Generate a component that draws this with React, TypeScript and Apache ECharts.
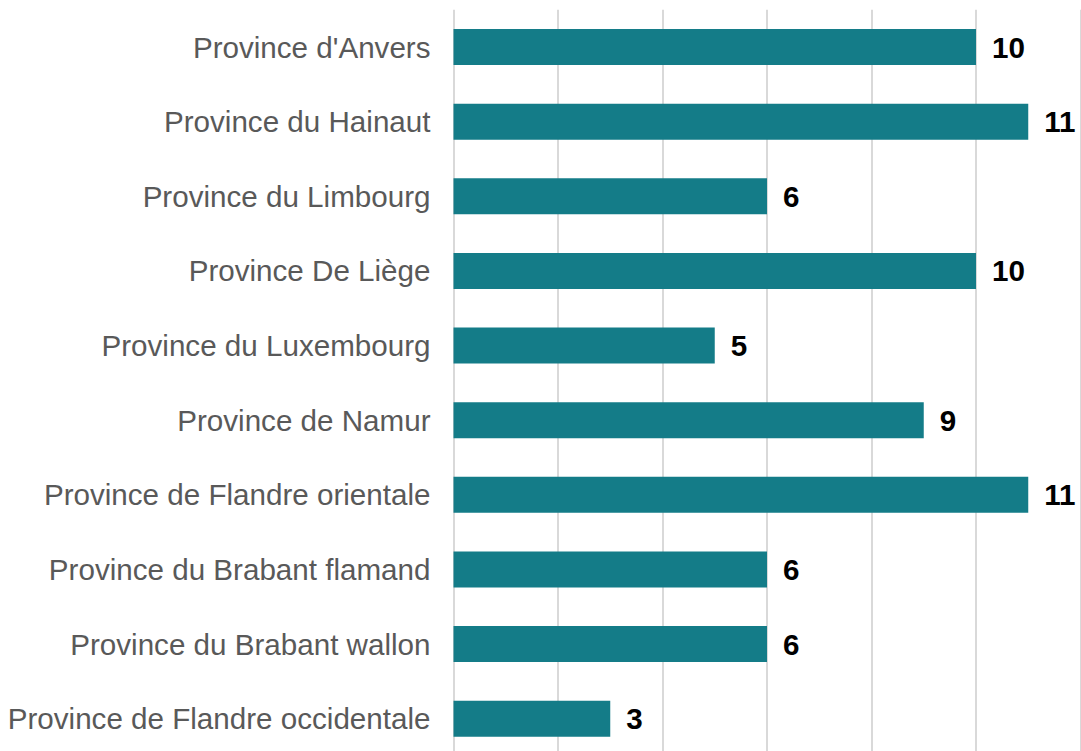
import React, { useEffect, useRef } from "react";
import * as echarts from "echarts";

const categories = [
  "Province d'Anvers",
  "Province du Hainaut",
  "Province du Limbourg",
  "Province De Liège",
  "Province du Luxembourg",
  "Province de Namur",
  "Province de Flandre orientale",
  "Province du Brabant flamand",
  "Province du Brabant wallon",
  "Province de Flandre occidentale",
];
const values = [10, 11, 6, 10, 5, 9, 11, 6, 6, 3];

export default function App() {
  const ref = useRef<HTMLDivElement>(null);
  useEffect(() => {
    if (!ref.current) return;
    const chart = echarts.init(ref.current, undefined, { renderer: "svg" });
    chart.setOption({
      animation: false,
      backgroundColor: "#ffffff",
      grid: { left: 453.5, right: 0.5, top: 9.7, bottom: 0, containLabel: false },
      xAxis: {
        type: "value",
        min: 0,
        max: 12,
        interval: 2,
        axisLabel: { show: false },
        axisLine: { show: false },
        axisTick: { show: false },
        splitLine: { show: true, lineStyle: { color: "#d9d9d9", width: 2 } },
      },
      yAxis: {
        type: "category",
        data: categories,
        inverse: true,
        axisLine: { show: false },
        axisTick: { show: false },
        splitLine: { show: false },
        axisLabel: {
          color: "#595959",
          fontSize: 29.6,
          fontFamily: "'Liberation Sans', Arial, sans-serif",
          margin: 23,
        },
      },
      series: [
        {
          type: "bar",
          data: values,
          barWidth: 36,
          itemStyle: { color: "#147c88" },
          label: {
            show: true,
            position: "right",
            distance: 16,
            color: "#000000",
            fontSize: 29.6,
            fontWeight: "bold",
            fontFamily: "'Liberation Sans', Arial, sans-serif",
          },
        },
      ],
    });
    return () => chart.dispose();
  }, []);
  return (
    <div style={{ position: "fixed", left: 0, top: 0, width: 1081, height: 751, overflow: "hidden", background: "#fff" }}>
      <div ref={ref} style={{ width: 1081, height: 756.4 }} />
    </div>
  );
}
